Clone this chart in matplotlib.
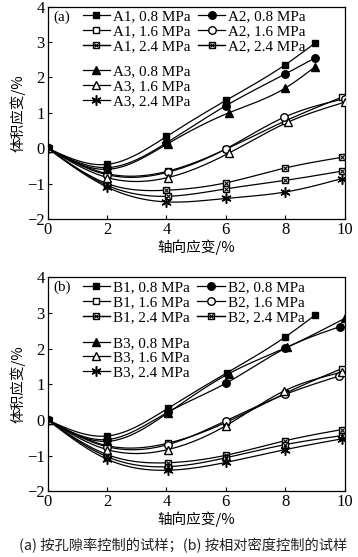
import numpy as np
import matplotlib
matplotlib.use("Agg")
import matplotlib.pyplot as plt
from matplotlib.legend_handler import HandlerTuple

plt.rcParams.update({
    'font.family': ['Liberation Serif', 'Noto Sans CJK SC'],
    'font.size': 12,
    'legend.fontsize': 10.9,
    'axes.linewidth': 0.9,
    'xtick.direction': 'in',
    'ytick.direction': 'in',
    'xtick.major.size': 3,
    'ytick.major.size': 3,
})

# ---- data ----
# panel (a)
a1_08_x = [0, 2, 4, 6, 8, 9]
a1_08_y = [0, -0.46, 0.33, 1.35, 2.36, 2.97]
a2_08_x = [0, 2, 4, 6, 8, 9]
a2_08_y = [0, -0.55, 0.15, 1.2, 2.1, 2.55]
a3_08_x = [0, 2, 4.05, 6.1, 8, 9]
a3_08_y = [0, -0.6, 0.13, 1.0, 1.7, 2.3]
a1_16_x = [0, 2, 4.05, 6, 8, 9.9]
a1_16_y = [0, -0.72, -0.65, -0.03, 0.77, 1.44]
a2_16_x = [0, 2, 4.05, 6, 7.95, 10]
a2_16_y = [0, -0.75, -0.68, -0.02, 0.87, 1.4]
a3_16_x = [0, 2, 4.05, 6.1, 8.1, 10]
a3_16_y = [0, -0.83, -0.83, -0.14, 0.74, 1.3]
a1_24_x = [0, 2, 4, 6, 8, 9.9]
a1_24_y = [0, -1.0, -1.19, -0.98, -0.56, -0.26]
a2_24_x = [0, 2, 4.05, 6, 8, 9.9]
a2_24_y = [0, -1.05, -1.36, -1.15, -0.91, -0.65]
a3_24_x = [0, 2, 4, 6, 8, 9.9]
a3_24_y = [0, -1.1, -1.52, -1.42, -1.24, -0.86]

# panel (b)
b1_08_x = [0, 2, 4.05, 6.05, 8, 9]
b1_08_y = [0, -0.45, 0.33, 1.33, 2.33, 2.94]
b2_08_x = [0, 2, 4.05, 6, 8, 9.85]
b2_08_y = [0, -0.55, 0.22, 1.03, 2.01, 2.62]
b3_08_x = [0, 2, 4.05, 6.1, 8.05, 10]
b3_08_y = [0, -0.6, 0.2, 1.3, 2.04, 2.85]
b1_16_x = [0, 2, 4.05, 6, 8, 9.9]
b1_16_y = [0, -0.72, -0.65, -0.07, 0.75, 1.44]
b2_16_x = [0, 2, 4.05, 6, 8, 9.8]
b2_16_y = [0, -0.75, -0.69, -0.02, 0.72, 1.23]
b3_16_x = [0, 2, 4.05, 6, 7.95, 9.9]
b3_16_y = [0, -0.83, -0.83, -0.16, 0.81, 1.34]
b1_24_x = [0, 2, 4.05, 6, 8, 9.9]
b1_24_y = [0, -0.97, -1.2, -0.99, -0.58, -0.27]
b2_24_x = [0, 2, 4.05, 6, 8, 9.9]
b2_24_y = [0, -1.03, -1.31, -1.06, -0.69, -0.44]
b3_24_x = [0, 2, 4.05, 6, 8, 9.9]
b3_24_y = [0, -1.1, -1.41, -1.19, -0.83, -0.53]

pressures = ['0.8', '1.6', '2.4']
x_ticks = [0, 2, 4, 6, 8, 10]
y_ticks = [-2, -1, 0, 1, 2, 3, 4]


def spline(x, y, n=200):
    # natural cubic spline, only used to draw the smooth connecting line
    x = np.asarray(x, float)
    y = np.asarray(y, float)
    h = np.diff(x)
    m = len(x)
    A = np.zeros((m, m))
    r = np.zeros(m)
    A[0, 0] = A[-1, -1] = 1
    for i in range(1, m - 1):
        A[i, i - 1] = h[i - 1]
        A[i, i] = 2 * (h[i - 1] + h[i])
        A[i, i + 1] = h[i]
        r[i] = 3 * ((y[i + 1] - y[i]) / h[i] - (y[i] - y[i - 1]) / h[i - 1])
    c = np.linalg.solve(A, r)
    b = (y[1:] - y[:-1]) / h - h * (2 * c[:-1] + c[1:]) / 3
    d = (c[1:] - c[:-1]) / (3 * h)
    xs = np.linspace(x[0], x[-1], n)
    k = np.clip(np.searchsorted(x, xs) - 1, 0, m - 2)
    t = xs - x[k]
    ys = y[k] + b[k] * t + c[k] * t ** 2 + d[k] * t ** 3
    return xs, ys


ms = 4.8
styles = {
    'fsq': [dict(marker='s', mfc='k', mec='k', ms=ms)],
    'osq': [dict(marker='s', mfc='w', mec='k', ms=ms)],
    'xsq': [dict(marker='s', mfc='w', mec='k', ms=ms), dict(marker='x', mec='k', ms=ms - 1.2, mew=0.8)],
    'fci': [dict(marker='o', mfc='k', mec='k', ms=ms + 0.6)],
    'oci': [dict(marker='o', mfc='w', mec='k', ms=ms + 0.6)],
    'ftr': [dict(marker='^', mfc='k', mec='k', ms=ms + 0.6)],
    'otr': [dict(marker='^', mfc='w', mec='k', ms=ms + 0.6)],
    'star': [dict(marker=(6, 2, 0), mec='k', ms=ms + 2.5, mew=1.1)],
}


def series(ax, x, y, style):
    xs, ys = spline(x, y)
    ax.plot(xs, ys, color='k', lw=0.9)
    handles = []
    for i, st in enumerate(styles[style]):
        ax.plot(x, y, ls='none', zorder=3 + i, **st)
        handles.append(ax.plot([], [], color='k', lw=0.9, **st)[0])
    return tuple(handles)


def panel(ax, tag, data, label_prefix):
    hs = [series(ax, x, y, st) for x, y, st in data]
    names = [f'{label_prefix}{j}, {p} MPa' for j in (1, 2, 3) for p in pressures]
    kw = dict(frameon=False, borderpad=0, borderaxespad=0, handlelength=1.8,
              handletextpad=0.2, labelspacing=0.08, loc='upper left',
              handler_map={tuple: HandlerTuple(ndivide=1, pad=0)})
    leg1 = ax.legend(hs[:6], names[:6], ncol=2, columnspacing=0.5,
                     bbox_to_anchor=(0.118, 0.985), **kw)
    ax.add_artist(leg1)
    ax.legend(hs[6:], names[6:], bbox_to_anchor=(0.118, 0.725), **kw)
    ax.text(0.018, 0.952, tag, transform=ax.transAxes, va='center', ha='left',
            fontsize=10.9)
    ax.set_xlim(0, 10)
    ax.set_ylim(-2, 4)
    ax.set_xticks(x_ticks)
    ax.set_yticks(y_ticks)
    ax.set_yticklabels(['\u22122' if v == -2 else '\u22121' if v == -1 else str(v) for v in y_ticks])
    ax.tick_params(top=False, right=False, pad=2)
    ax.set_xlabel('轴向应变/%', family=['Noto Sans CJK SC', 'DejaVu Sans'], fontsize=10.5, labelpad=1)
    ax.set_ylabel('体积应变/%', family=['Noto Sans CJK SC', 'DejaVu Sans'], fontsize=10.5, labelpad=1)


fig = plt.figure(figsize=(3.58, 5.57), dpi=100)
ax_a = fig.add_axes([0.133, 0.607, 0.83, 0.381])
ax_b = fig.add_axes([0.133, 0.118, 0.83, 0.384])

data_a = [
    (a1_08_x, a1_08_y, 'fsq'), (a1_16_x, a1_16_y, 'osq'), (a1_24_x, a1_24_y, 'xsq'),
    (a2_08_x, a2_08_y, 'fci'), (a2_16_x, a2_16_y, 'oci'), (a2_24_x, a2_24_y, 'xsq'),
    (a3_08_x, a3_08_y, 'ftr'), (a3_16_x, a3_16_y, 'otr'), (a3_24_x, a3_24_y, 'star'),
]
data_b = [
    (b1_08_x, b1_08_y, 'fsq'), (b1_16_x, b1_16_y, 'osq'), (b1_24_x, b1_24_y, 'xsq'),
    (b2_08_x, b2_08_y, 'fci'), (b2_16_x, b2_16_y, 'oci'), (b2_24_x, b2_24_y, 'xsq'),
    (b3_08_x, b3_08_y, 'ftr'), (b3_16_x, b3_16_y, 'otr'), (b3_24_x, b3_24_y, 'star'),
]
panel(ax_a, '(a)', data_a, 'A')
panel(ax_b, '(b)', data_b, 'B')

fig.text(0.512, 0.021, '(a) 按孔隙率控制的试样；(b) 按相对密度控制的试样',
         ha='center', va='center', fontsize=10.3,
         family=['Noto Sans CJK SC', 'DejaVu Sans'], color='#222222')

fig.savefig('out.png', dpi=100)
